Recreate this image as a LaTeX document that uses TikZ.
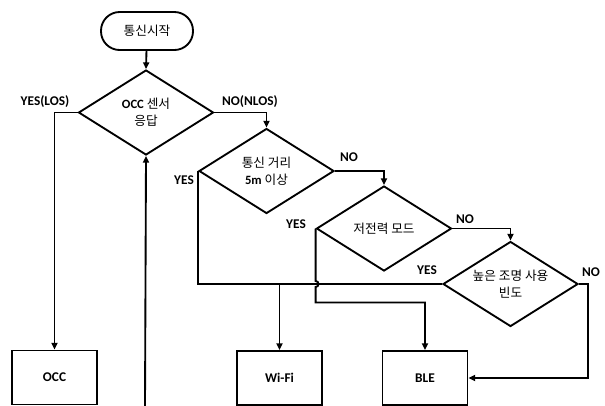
\documentclass[tikz,border=0pt]{standalone}
\usepackage{fontspec}
\setmainfont{Carlito}
\newfontfamily\kr{Noto Sans CJK KR}
\usetikzlibrary{shapes.geometric,arrows.meta,calc}
\newcommand{\lat}[1]{{\rmfamily\bfseries #1}}

\begin{document}
\begin{tikzpicture}[x=0.75pt, y=-0.75pt]
  % Define styles
  \tikzstyle{terminal} = [rectangle, rounded corners=14pt, minimum width=69pt, minimum height=28.5pt,
                          draw=black, line width=1.4pt, font=\fontsize{9.5}{11}\selectfont\kr]
  \tikzstyle{decision} = [diamond, aspect=1.6, minimum width=101.25pt, minimum height=63.75pt, inner sep=0pt,
                          align=center, draw=black, line width=1.4pt, font=\fontsize{9.5}{12.5}\selectfont\kr]
  \tikzstyle{result} = [rectangle, minimum width=63.75pt, minimum height=40.5pt,
                        draw=black, line width=1.4pt, font=\fontsize{10}{12}\selectfont\bfseries]
  \tikzstyle{answer} = [inner sep=1pt, font=\fontsize{10}{12}\selectfont\bfseries]
  \tikzstyle{arrow} = [line width=1.4pt, -{Triangle[length=5pt,width=4.5pt]}]
  \tikzstyle{line} = [line width=1.4pt]

  \useasboundingbox (0,0) rectangle (605,405);

  % Nodes
  \node (start) [terminal] at (147,31) {통신시작};
  \node (occq) [decision] at (146,112.5) {\lat{OCC} 센서\\응답};
  \node (dist) [decision] at (266.5,171) {통신 거리\\\lat{5m} 이상};
  \node (power) [decision] at (384,228.5) {저전력 모드};
  \node (light) [decision] at (510.5,284) {높은 조명 사용\\빈도};
  \node (occ) [result] at (54.5,377.5) {OCC};
  \node (wifi) [result] at (279.5,378) {Wi-Fi};
  \node (ble) [result] at (425,378) {BLE};
  \coordinate (back) at (145,406);

  % Arrows
  \draw [arrow] (start) -- (occq.north);
  \draw [arrow] (occq.west) -| (occ.north);
  \draw [arrow] (occq.east) -| (dist.north);
  \draw [arrow] (back) -- (occq.south);
  \draw [arrow] (dist.east) -| (power.north);
  \draw [arrow] (power.east) -| (light.north);
  \draw [line] (dist.west) |- (light.west);
  \draw [arrow] (wifi.north |- light.west) -- (wifi.north);
  \coordinate (hop) at (power.west |- light.west);
  \draw [arrow] (power.west) -- ($(hop)+(0,-3)$) arc[start angle=90, end angle=-90, radius=2.25pt]
                -- ($(power.west)+(0,74)$) -| (ble.north);
  \draw [arrow] (light.east) -- ++(9,0) |- (ble.east);

  % Labels on arrows
  \node (occqyes) [answer] at (45,102) {YES(LOS)};
  \node (occqno) [answer] at (250,102) {NO(NLOS)};
  \node (distyes) [answer] at (184,180) {YES};
  \node (distno) [answer] at (349,157) {NO};
  \node (poweryes) [answer] at (296,224) {YES};
  \node (powerno) [answer] at (465,219) {NO};
  \node (lightyes) [answer] at (427,270) {YES};
  \node (lightno) [answer] at (591,272) {NO};
\end{tikzpicture}
\end{document}
